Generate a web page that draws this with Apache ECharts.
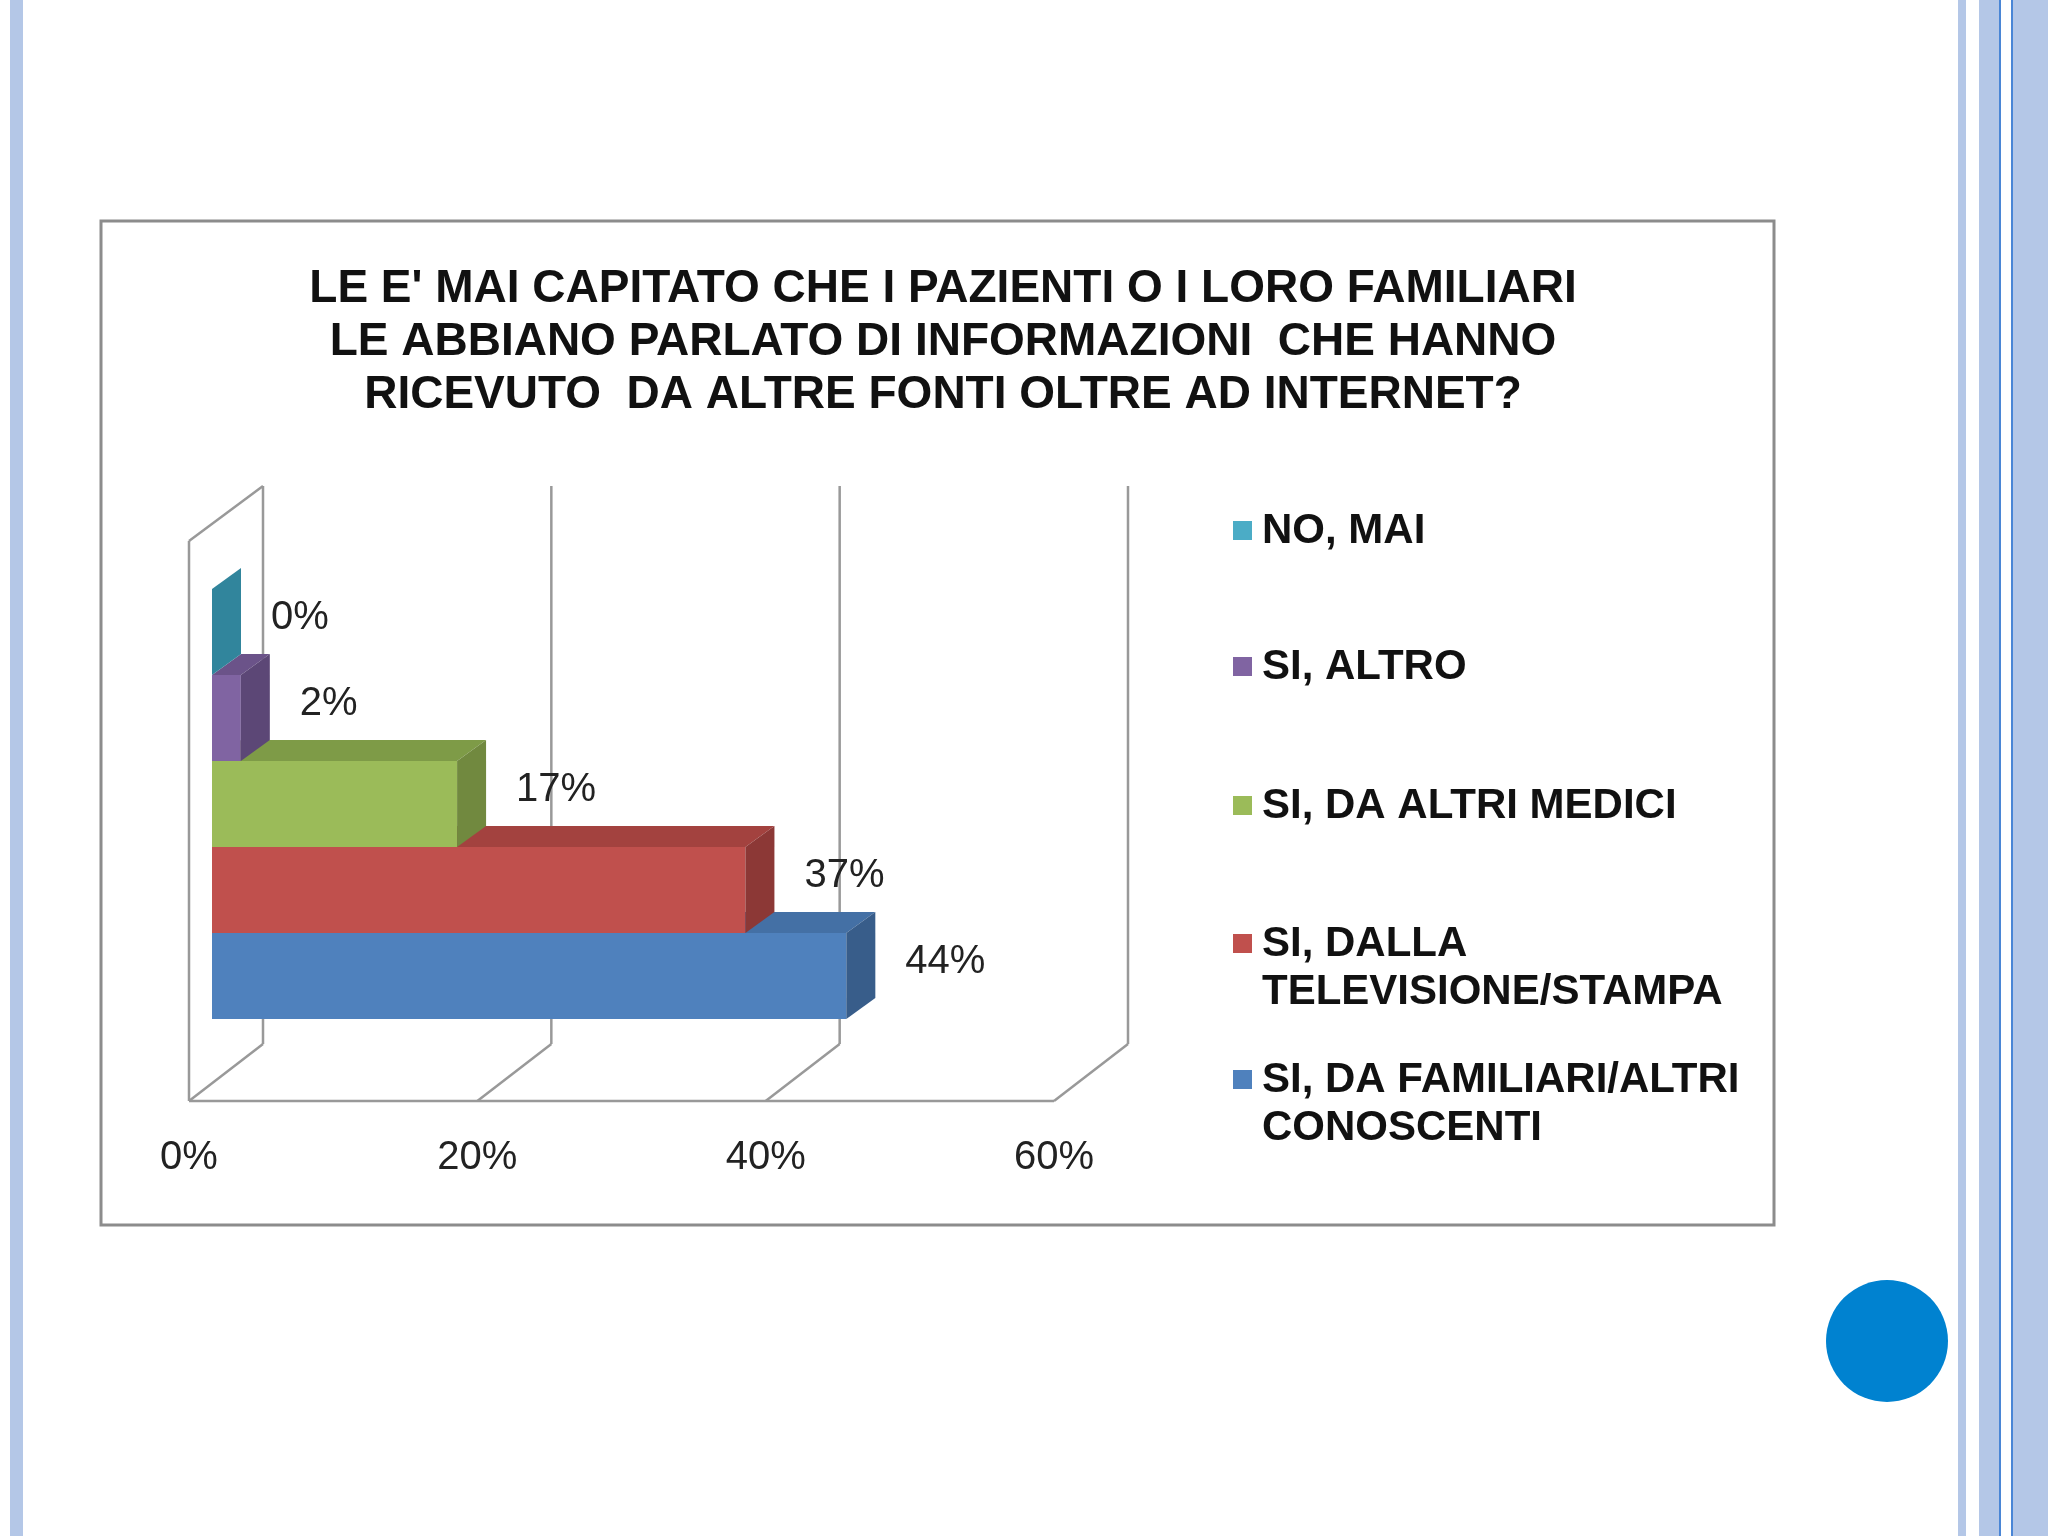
<!DOCTYPE html>
<html><head><meta charset="utf-8">
<script src="https://cdn.jsdelivr.net/npm/echarts@6/dist/echarts.min.js"></script>
<style>
html,body{margin:0;padding:0;background:#fff;}
#chart{width:2048px;height:1536px;}
.strip{position:absolute;top:0;height:1536px;background:#b4c7e7;}
</style></head>
<body>
<div class="strip" style="left:10px;width:13px"></div>
<div class="strip" style="left:1958px;width:8px"></div>
<div class="strip" style="left:1979px;width:20px;border-right:2px solid #4a86d6"></div>
<div class="strip" style="left:2011px;width:37px;border-left:2px solid #4a86d6"></div>
<div id="chart" style="position:absolute;left:0;top:0"></div>
<script>
// CHART DATA
const categories = [
  "SI, DA FAMILIARI/ALTRI\nCONOSCENTI",
  "SI, DALLA\nTELEVISIONE/STAMPA",
  "SI, DA ALTRI MEDICI",
  "SI, ALTRO",
  "NO, MAI",
];
const values = [44, 37, 17, 2, 0];
const xTicks = [0, 20, 40, 60];
const frontColors = ["#4F81BD", "#C0504D", "#9BBB59", "#8064A2", "#4BACC6"];
const sideColors = ["#385D8A", "#8C3836", "#71893F", "#5C4776", "#31859C"];
const topColors = ["#4470A5", "#A3423F", "#7E9B47", "#6B5389", "#3A95AE"];

const DX = 29, DY = 21;

let chart = echarts.init(document.getElementById("chart"));

function renderBar(params, api) {
  const i = api.value(0);
  const v = api.value(1);
  const p0 = api.coord([0, i]);
  const p1 = api.coord([v, i]);
  const h = api.size([0, 1])[1];
  const top = p0[1] - h / 2;
  const bottom = p0[1] + h / 2;
  const x0 = p0[0], x1 = p1[0];
  return {
    type: "group",
    children: [
      { type: "rect", shape: { x: x0, y: top, width: x1 - x0, height: h },
        style: { fill: frontColors[i] } },
      { type: "polygon",
        shape: { points: [[x0, top], [x0 + DX, top - DY], [x1 + DX, top - DY], [x1, top]] },
        style: { fill: topColors[i] } },
      { type: "polygon",
        shape: { points: [[x1, top], [x1 + DX, top - DY], [x1 + DX, bottom - DY], [x1, bottom]] },
        style: { fill: sideColors[i] } },
      { type: "text", x: x1 + DX + 30, y: p0[1] - 14,
        style: { text: v + "%", fontSize: 40, fill: "#222", fontFamily: "Liberation Sans",
          verticalAlign: "middle" } },
    ],
  };
}

let option = {
  animation: false,
  title: {
    text: "LE E' MAI CAPITATO CHE I PAZIENTI O I LORO FAMILIARI\nLE ABBIANO PARLATO DI INFORMAZIONI  CHE HANNO\nRICEVUTO  DA ALTRE FONTI OLTRE AD INTERNET?",
    left: 938, top: 258, textAlign: "center",
    textStyle: { fontSize: 46, fontWeight: "bold", color: "#111", lineHeight: 53,
      fontFamily: "Liberation Sans" },
  },
  grid: { left: 212, top: 589, width: 865, height: 430 },
  xAxis: { type: "value", min: 0, max: 60, interval: 20, show: false },
  yAxis: { type: "category", data: categories, show: false },
  series: [{
    type: "custom",
    renderItem: renderBar,
    encode: { x: 1, y: 0 },
    data: values.map((v, i) => [i, v]),
  }],
};
chart.setOption(option);

// 3D frame, tick labels, legend
const g = [];
const line = (a, b) => g.push({ type: "line", shape: { x1: a[0], y1: a[1], x2: b[0], y2: b[1] },
  style: { stroke: "#999", lineWidth: 2.5 }, z: -1 });
const gridBottom = chart.convertToPixel({ gridIndex: 0 }, [0, -0.5])[1];
const floorFront = gridBottom + 82 + 43, floorBack = gridBottom + 26 + 42;
const backTop = 486, frontTop = 541;
const px = (v) => chart.convertToPixel({ xAxisIndex: 0 }, v);
xTicks.forEach((t) => {
  const xf = px(t) - 23, xb = px(t) + 51;
  line([xf, floorFront], [xb, floorBack]);
  line([xb, floorBack], [xb, backTop]);
  g.push({ type: "text", x: xf, y: floorFront + 57,
    style: { text: t + "%", fontSize: 40, fill: "#222", fontFamily: "Liberation Sans",
      align: "center", verticalAlign: "middle" } });
});
line([px(0) - 23, floorFront], [px(60) - 23, floorFront]);
line([px(0) - 23, floorFront], [px(0) - 23, frontTop]);
line([px(0) - 23, frontTop], [px(0) + 51, backTop]);

const legendY = [531, 667, 806, 944, 1080];
const legendOrder = [4, 3, 2, 1, 0];
legendOrder.forEach((ci, k) => {
  g.push({ type: "rect", shape: { x: 1233, y: legendY[k] - 10, width: 19, height: 19 },
    style: { fill: frontColors[ci] } });
  g.push({ type: "text", x: 1262, y: legendY[k] - 24,
    style: { text: categories[ci], fontSize: 42, fontWeight: "bold", fill: "#111",
      lineHeight: 48, fontFamily: "Liberation Sans" } });
});
g.push({ type: "rect", shape: { x: 101, y: 221, width: 1673, height: 1004 },
  style: { fill: "none", stroke: "#8c8c8c", lineWidth: 3 } });
g.push({ type: "circle", shape: { cx: 1887, cy: 1341, r: 61 }, style: { fill: "#0082D0" } });
chart.setOption({ graphic: g });
</script>
</body></html>
